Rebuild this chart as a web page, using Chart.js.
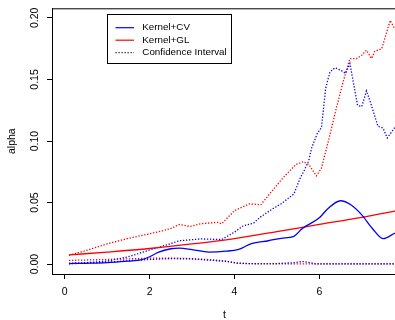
<!DOCTYPE html>
<html>
<head>
<meta charset="utf-8">
<script src="https://cdn.jsdelivr.net/npm/chart.js@4.4.0/dist/chart.umd.min.js"></script>
<style>
  html, body { margin: 0; padding: 0; overflow: hidden; background: #fff; }
  #wrap { width: 397px; height: 320px; }
</style>
</head>
<body>
<div id="wrap"><canvas id="alphaChart"></canvas></div>
<script>
// values, t on the x axis
const cvT = [0.1, 0.5, 1.0, 1.5, 1.8, 2.0, 2.2, 2.5, 2.7, 3.0, 3.4, 3.8, 4.1, 4.4, 4.8, 5.1, 5.4, 5.6, 6.0, 6.2, 6.5, 6.75, 7.0, 7.25, 7.5, 7.78];
const cvAlpha = [0.0005, 0.0007, 0.0012, 0.0025, 0.0035, 0.006, 0.0095, 0.0125, 0.013, 0.0118, 0.0098, 0.0105, 0.012, 0.0167, 0.019, 0.021, 0.0226, 0.029, 0.0376, 0.045, 0.0515, 0.048, 0.040, 0.029, 0.0207, 0.0252];

const glT = [0.1, 1.0, 2.0, 3.0, 4.0, 5.0, 6.0, 7.0, 7.8];
const glAlpha = [0.0075, 0.0098, 0.0127, 0.0164, 0.0208, 0.0264, 0.0323, 0.0380, 0.0432];

const cvHiT = [0.1, 0.5, 1.0, 1.5, 2.0, 2.3, 2.7, 3.2, 3.7, 4.0, 4.2, 4.45, 4.6, 4.9, 5.1, 5.4, 5.55, 5.65, 5.75, 5.82, 5.95, 6.05, 6.15, 6.25, 6.37, 6.5, 6.62, 6.72, 6.9, 7.0, 7.11, 7.2, 7.38, 7.5, 7.6, 7.78];
const cvHi = [0.0008, 0.0012, 0.0025, 0.006, 0.0115, 0.0145, 0.019, 0.0205, 0.020, 0.026, 0.031, 0.0333, 0.038, 0.045, 0.049, 0.057, 0.070, 0.0765, 0.084, 0.0945, 0.106, 0.111, 0.143, 0.156, 0.1595, 0.1576, 0.155, 0.163, 0.129, 0.128, 0.1407, 0.132, 0.112, 0.1106, 0.1025, 0.111];

const cvLoT = [0.1, 1.0, 1.5, 2.0, 2.5, 3.0, 3.5, 3.8, 4.1, 4.5, 5.0, 5.4, 5.6, 5.75, 5.9, 6.5, 7.78];
const cvLo = [0.0003, 0.0015, 0.0028, 0.0038, 0.0045, 0.0042, 0.003, 0.0022, 0.0006, 0.0004, 0.0005, 0.0012, 0.0021, 0.0015, 0.0003, 0.0002, 0.0002];

const glHiT = [0.1, 0.5, 1.0, 1.5, 2.0, 2.3, 2.5, 2.7, 2.95, 3.2, 3.6, 3.7, 4.0, 4.35, 4.62, 4.85, 5.15, 5.45, 5.62, 5.75, 5.93, 6.05, 6.25, 6.4, 6.56, 6.72, 6.88, 7.0, 7.11, 7.23, 7.31, 7.47, 7.67, 7.78];
const glHi = [0.0072, 0.011, 0.0165, 0.021, 0.0247, 0.027, 0.029, 0.0322, 0.0306, 0.0328, 0.034, 0.0328, 0.0435, 0.049, 0.0483, 0.058, 0.0703, 0.081, 0.0832, 0.081, 0.0717, 0.078, 0.105, 0.1267, 0.148, 0.167, 0.167, 0.1697, 0.1737, 0.167, 0.173, 0.175, 0.198, 0.191];

const glLoT = [0.1, 1.0, 2.0, 2.5, 3.0, 3.5, 3.8, 4.1, 4.5, 5.5, 6.5, 7.78];
const glLo = [0.003, 0.0038, 0.0048, 0.005, 0.0045, 0.0035, 0.0025, 0.0008, 0.0003, 0.0003, 0.0002, 0.0002];

const xTicksStep = 2;
const yTicksStep = 0.05;
const xMin = -0.3, xMax = 7.83;
const yMin = -0.008, yMax = 0.2078;

const legendLabels = ['Kernel+CV', 'Kernel+GL', 'Confidence Interval'];
const legendColors = ['#0000ff', '#ff0000', '#333333'];

const FONT = "'Liberation Sans', Arial, Helvetica, sans-serif";

function pts(ts, vs) {
    return ts.map((t, i) => ({ x: t, y: vs[i] }));
}

function solid(label, ts, vs, color) {
    return {
        label: label,
        data: pts(ts, vs),
        borderColor: color,
        borderWidth: 1.3,
        pointRadius: 0,
        cubicInterpolationMode: 'monotone',
        fill: false
    };
}

function dotted(label, ts, vs, color) {
    return {
        label: label,
        data: pts(ts, vs),
        borderColor: color,
        borderWidth: 1.3,
        borderDash: [1.3, 1.7],
        pointRadius: 0,
        tension: 0,
        fill: false
    };
}

// box round the plot and the legend, like R draws them
const boxAndLegend = {
    id: 'boxAndLegend',
    afterDraw(chart) {
        const ctx = chart.ctx;
        const a = chart.chartArea;
        ctx.save();
        ctx.strokeStyle = '#000';
        ctx.lineWidth = 1;
        ctx.strokeRect(a.left + 0.5, a.top + 0.5, a.right - a.left, a.bottom - a.top);

        const bx = 107.5, by = 14.5, bw = 124, bh = 49;
        ctx.fillStyle = '#fff';
        ctx.fillRect(bx, by, bw, bh);
        ctx.strokeRect(bx, by, bw, bh);

        ctx.font = '9.8px ' + FONT;
        ctx.textBaseline = 'middle';
        ctx.textAlign = 'left';
        legendLabels.forEach((lab, i) => {
            const y = 27.7 + i * 12.5;
            ctx.beginPath();
            ctx.strokeStyle = legendColors[i];
            ctx.lineWidth = 1.2;
            ctx.setLineDash(i === 2 ? [1.3, 1.7] : []);
            ctx.moveTo(115.5, y);
            ctx.lineTo(134, y);
            ctx.stroke();
            ctx.setLineDash([]);
            ctx.fillStyle = '#000';
            ctx.fillText(lab, 142.3, y);
        });
        ctx.restore();
    }
};

const tickFont = { family: FONT, size: 10.5 };

new Chart(document.getElementById('alphaChart'), {
    type: 'line',
    data: {
        datasets: [
            solid('Kernel+CV', cvT, cvAlpha, '#0000ff'),
            solid('Kernel+GL', glT, glAlpha, '#ff0000'),
            dotted('CV upper', cvHiT, cvHi, '#0000ff'),
            dotted('CV lower', cvLoT, cvLo, '#0000ff'),
            dotted('GL upper', glHiT, glHi, '#ff0000'),
            dotted('GL lower', glLoT, glLo, '#ff0000')
        ]
    },
    options: {
        responsive: true,
        maintainAspectRatio: false,
        animation: false,
        layout: { padding: { top: 6, right: 0, bottom: 0, left: 0 } },
        plugins: {
            legend: { display: false },
            tooltip: { enabled: false }
        },
        scales: {
            x: {
                type: 'linear',
                min: xMin,
                max: xMax,
                afterFit: function(s) { s.height = 46; },
                grid: { drawOnChartArea: false, tickLength: 5, color: '#000' },
                border: { color: '#000' },
                ticks: {
                    stepSize: xTicksStep,
                    includeBounds: false,
                    maxRotation: 0,
                    padding: 7,
                    color: '#000',
                    font: tickFont,
                    callback: v => String(v)
                },
                title: {
                    display: true,
                    text: 't',
                    color: '#000',
                    font: { family: FONT, size: 10.5, lineHeight: 1 },
                    padding: { top: 0, bottom: 0 }
                }
            },
            y: {
                min: yMin,
                max: yMax,
                afterFit: function(s) { s.width = 52; },
                grid: { drawOnChartArea: false, tickLength: 5, color: '#000' },
                border: { color: '#000' },
                ticks: {
                    stepSize: yTicksStep,
                    includeBounds: false,
                    minRotation: 90,
                    maxRotation: 90,
                    crossAlign: 'center',
                    padding: 2,
                    color: '#000',
                    font: tickFont,
                    callback: v => v.toFixed(2)
                },
                title: {
                    display: true,
                    text: 'alpha',
                    color: '#000',
                    font: { family: FONT, size: 10.5, lineHeight: 1 },
                    padding: { top: 7, bottom: 0 }
                }
            }
        }
    },
    plugins: [boxAndLegend]
});
</script>
</body>
</html>
